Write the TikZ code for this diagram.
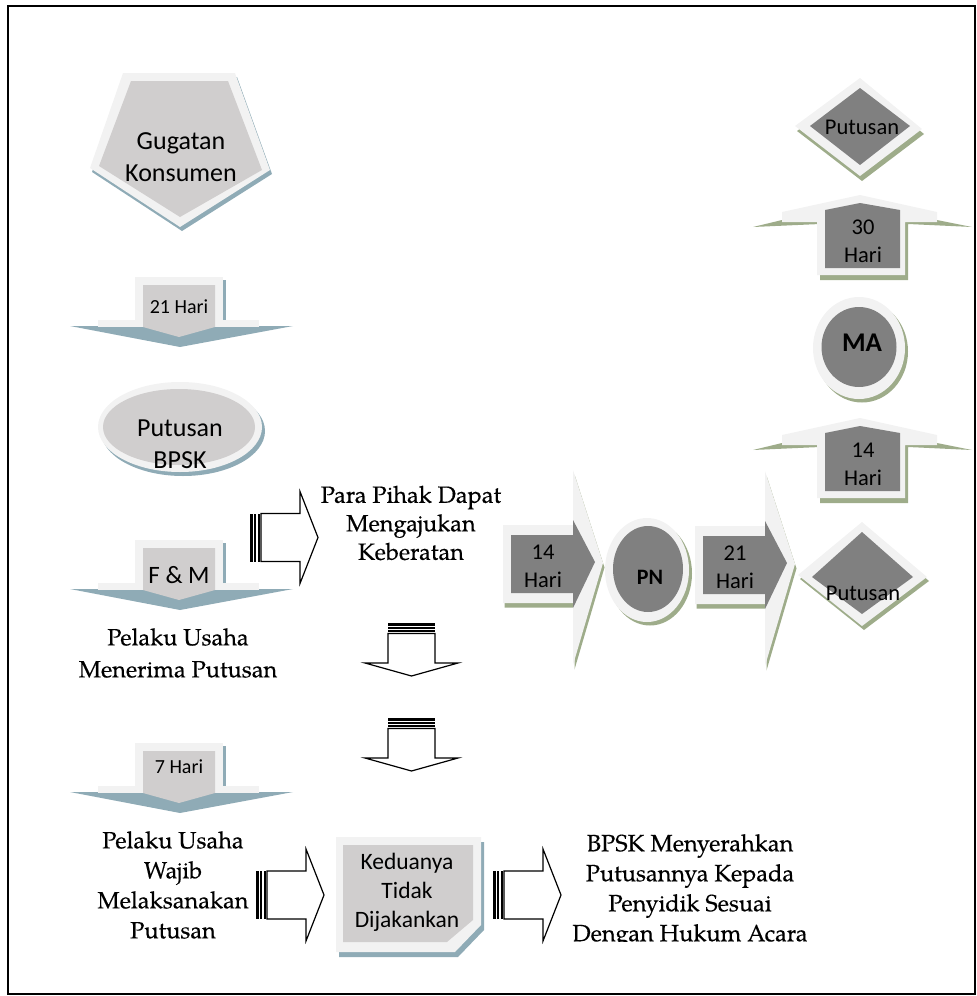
\documentclass[tikz,border=0pt]{standalone}
\usepackage{fontspec}
\setmainfont{TeX Gyre Pagella}[FakeBold=0.35]
\newfontfamily\calibri{Carlito}
\definecolor{lframe}{HTML}{F2F2F2}
\definecolor{linner}{HTML}{D0CECE}
\definecolor{lshadow}{HTML}{8FABB6}
\definecolor{rinner}{HTML}{808080}
\definecolor{rshadow}{HTML}{9EAC8A}
\tikzset{
  lsh/.style={fill=lshadow},
  lfr/.style={fill=lframe},
  lin/.style={fill=linner},
  rsh/.style={fill=rshadow},
  rfr/.style={fill=lframe},
  rin/.style={fill=rinner},
  stripebody/.style={draw=black,fill=white,line width=1.2pt,line join=miter},
  serif/.style={font=\fontsize{23.5}{30}\selectfont,align=center,inner sep=0pt},
  lbl/.style={font=\calibri\fontsize{20}{24}\selectfont,align=center,inner sep=0pt},
  rlbl/.style={font=\calibri\fontsize{22.5}{28}\selectfont,align=center,inner sep=0pt},
}
% down arrow, left column: cx, y0, name, text, text y, font size
\newcommand\DownArr[6]{%
\begin{scope}[shift={(#1,#2)}]
 \fill[lsh] (43,3) rectangle (46,46);
 \fill[lsh] (-110,49) -- (113,49) -- (0,70) -- cycle;
 \fill[lfr] (-45,0) rectangle (43,45);
 \fill[lfr] (-82,43) rectangle (79,50);
 \fill[lin] (-37,8) -- (35,8) -- (35,50) -- (-1,60) -- (-37,50) -- cycle;
 \node[lbl,font=\calibri\fontsize{#6}{#6}\selectfont] (#3) at (-1,#5) {#4};
\end{scope}}
% striped right arrow: x0, cy, name
\newcommand\StripeR[3]{%
\begin{scope}[shift={(#1,#2)}]
 \fill (0,-24) rectangle (3.2,24);
 \fill (4.4,-24) rectangle (6.4,24);
 \fill (7.6,-24) rectangle (9.6,24);
 \draw[stripebody] (11,-24) -- (50,-24) -- (50,-46) -- (68,0) -- (50,46) -- (50,24) -- (11,24) -- cycle;
 \coordinate (#3) at (34,0);
\end{scope}}
% striped down arrow: cx, y0, name
\newcommand\StripeD[3]{%
\begin{scope}[shift={(#1,#2)}]
 \fill (-23.5,0) rectangle (23.5,3);
 \fill (-23.5,4.2) rectangle (23.5,6);
 \fill (-23.5,7.2) rectangle (23.5,9);
 \draw[stripebody] (-23.5,10.5) -- (-23.5,40) -- (-46.5,40) -- (0,53) -- (46.5,40) -- (23.5,40) -- (23.5,10.5) -- cycle;
 \coordinate (#3) at (0,25);
\end{scope}}
% right chevron arrow: x0, cy, name, text
\newcommand\ChevR[4]{%
\begin{scope}[shift={(#1,#2)}]
 \fill[rsh,shift={(1.5,4.5)}] (0,-40) -- (70,-40) -- (70,-95) -- (100,-2) -- (70,100) -- (70,38) -- (0,38) -- cycle;
 \fill[rfr] (0,-40) -- (70,-40) -- (70,-95) -- (100,-2) -- (70,100) -- (70,38) -- (0,38) -- cycle;
 \fill[rin] (8,-30) -- (70,-30) -- (70,-45) -- (92,-3) -- (70,43) -- (70,28) -- (8,28) -- cycle;
 \node[rlbl] (#3) at (40,1) {#4};
\end{scope}}
% up arrow, right column: cx, apex y, name, text
\newcommand\UpArr[4]{%
\begin{scope}[shift={(#1,#2)}]
 \fill[rsh] (-107,32) -- (-78,25) -- (77,25) -- (112,32) -- (48,29) -- (48,85) -- (-40,85) -- (-40,29) -- cycle;
 \fill[rfr] (-78,27) -- (-78,17) -- (0,0) -- (77,17) -- (77,27) -- (45,27) -- (45,80) -- (-43,80) -- (-43,27) -- cycle;
 \fill[rin] (-35,73) -- (40,73) -- (40,15) -- (0,8) -- (-35,15) -- cycle;
 \node[rlbl] (#3) at (3,46) {#4};
\end{scope}}
\begin{document}
\begin{tikzpicture}[x=1pt,y=-1pt]
\useasboundingbox (0,0) rectangle (977,996);
\draw[line width=2pt] (8,6) rectangle (975,994);

% Gugatan Konsumen pentagon
\fill[lsh,shift={(2,4)}] (123,73) -- (235,73) -- (270,170) -- (180,227) -- (90,168) -- cycle;
\fill[lfr] (123,73) -- (235,73) -- (270,170) -- (180,227) -- (90,168) -- cycle;
\fill[lin] (131,81) -- (228,81) -- (262,170) -- (180,217) -- (99,166) -- cycle;
\node[lbl,font=\calibri\fontsize{26}{32}\selectfont] (gugatan) at (181,157) {Gugatan\\Konsumen};

% 21 Hari
\DownArr{180}{277}{d21}{21 Hari}{30}{20}

% Putusan BPSK ellipse
\fill[lsh] (183,431) ellipse [x radius=82, y radius=45];
\fill[lfr] (180,427) ellipse [x radius=82, y radius=45];
\fill[lin] (179,427) ellipse [x radius=76, y radius=38];
\node[lbl,font=\calibri\fontsize{26}{32}\selectfont] (bpsk) at (180,444) {Putusan\\BPSK};

% F & M
\DownArr{180}{540}{fm}{F \& M}{35}{25}

\node[serif,font=\fontsize{23.5}{32}\selectfont] (terima) at (178,653) {Pelaku Usaha\\Menerima Putusan};

% 7 Hari
\DownArr{180}{743}{d7}{7 Hari}{24}{20}

\node[serif] (wajib) at (173,885) {Pelaku Usaha\\Wajib\\Melaksanakan\\Putusan};

% striped arrows
\StripeR{250}{537.5}{sr1}
\node[serif,font=\fontsize{23.5}{28.5}\selectfont] (pihak) at (411,523) {Para Pihak Dapat\\Mengajukan\\Keberatan};
\StripeD{411.5}{623}{sd1}
\StripeD{411.5}{718}{sd2}
\StripeR{256}{895}{sr2}

% Keduanya box
\fill[lsh,shift={(3,5)}] (336,837) -- (481,837) -- (481,925) -- (455,952) -- (336,952) -- cycle;
\fill[lfr] (336,837) -- (481,837) -- (481,925) -- (455,952) -- (336,952) -- cycle;
\fill[lin] (343,845) -- (473,845) -- (473,920) -- (447,942) -- (343,942) -- cycle;
\node[lbl,font=\calibri\fontsize{23.5}{29}\selectfont] (keduanya) at (407,892) {Keduanya\\Tidak\\Dijakankan};

\StripeR{493}{895}{sr3}
\begin{scope}
\clip (560,815) rectangle (830,941.5);
\node[serif] (serah) at (690,891) {BPSK Menyerahkan\\Putusannya Kepada\\Penyidik Sesuai\\Dengan Hukum Acara};
\end{scope}

% right row
\ChevR{503}{565}{c14}{14\\Hari}
\fill[rsh] (650,573.5) ellipse [x radius=42, y radius=52];
\fill[rfr] (647,570) ellipse [x radius=42, y radius=52];
\fill[rin] (648,569) ellipse [x radius=35, y radius=43];
\node[rlbl,font=\calibri\bfseries\fontsize{22}{26}\selectfont] (pn) at (650,577) {PN};
\ChevR{695}{566}{c21}{21\\Hari}

% bottom Putusan diamond
\fill[rsh,shift={(2,4)}] (798,575) -- (862,522) -- (927,577) -- (862,626) -- cycle;
\fill[rfr] (798,575) -- (862,522) -- (927,577) -- (862,626) -- cycle;
\fill[rin] (812,577) -- (862,532) -- (913,577) -- (862,614) -- cycle;
\node[rlbl] (put1) at (863,593) {Putusan};

% up arrows and MA
\UpArr{860}{418}{u14}{14\\Hari}
\fill[rsh] (862,351.5) ellipse [x radius=46, y radius=51];
\fill[rfr] (859,348) ellipse [x radius=46, y radius=51];
\fill[rin] (859,347) ellipse [x radius=37.5, y radius=40];
\node[rlbl,font=\calibri\bfseries\fontsize{27}{30}\selectfont] (ma) at (862,343) {MA};
\UpArr{860}{195}{u30}{30\\Hari}

% top Putusan diamond
\fill[rsh,shift={(2,5)}] (795,126) -- (860,78) -- (922,129) -- (860,176) -- cycle;
\fill[rfr] (795,126) -- (860,78) -- (922,129) -- (860,176) -- cycle;
\fill[rin] (810,126) -- (860,88) -- (910,126) -- (860,165) -- cycle;
\node[rlbl] (put2) at (862,127) {Putusan};
\end{tikzpicture}
\end{document}
